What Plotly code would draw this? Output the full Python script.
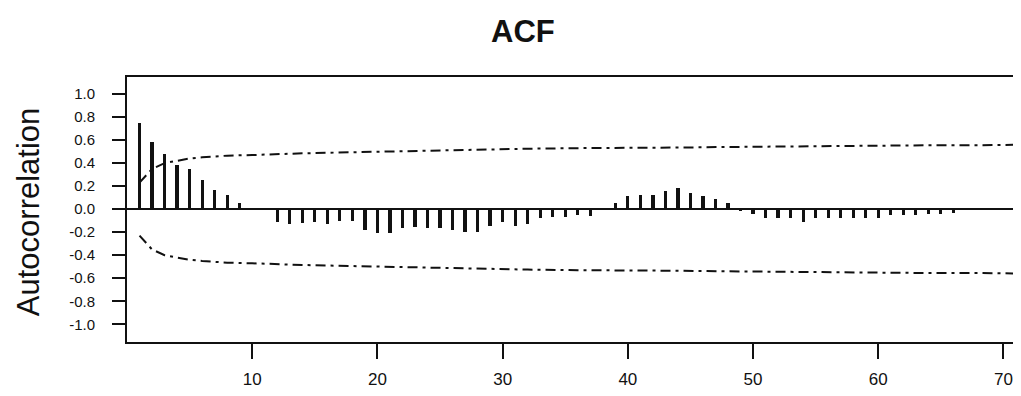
import plotly.graph_objects as go

# ---- data ----
lags = list(range(1, 67))
acf = [0.75, 0.58, 0.48, 0.38, 0.35, 0.25, 0.17, 0.12, 0.05, 0.01,
       0.00, -0.11, -0.13, -0.12, -0.11, -0.13, -0.10, -0.10, -0.18, -0.21,
       -0.21, -0.165, -0.155, -0.16, -0.16, -0.18, -0.20, -0.20, -0.15, -0.11,
       -0.15, -0.13, -0.08, -0.07, -0.07, -0.05, -0.06, 0.00, 0.05, 0.11,
       0.12, 0.12, 0.16, 0.18, 0.14, 0.11, 0.09, 0.05, -0.02, -0.04,
       -0.08, -0.08, -0.08, -0.11, -0.08, -0.08, -0.08, -0.08, -0.08, -0.08,
       -0.05, -0.05, -0.05, -0.04, -0.04, -0.03]

bound_lags = [1, 2, 3, 4, 5, 6, 7, 8, 10, 12, 14, 16, 20, 24, 28, 32, 36,
              40, 44, 48, 52, 56, 60, 64, 68, 72]
bound_vals = [0.23, 0.35, 0.40, 0.42, 0.44, 0.45, 0.46, 0.465, 0.47, 0.48,
              0.485, 0.49, 0.50, 0.51, 0.52, 0.525, 0.53, 0.53, 0.535, 0.54,
              0.545, 0.55, 0.55, 0.555, 0.555, 0.56]

x_ticks = [10, 20, 30, 40, 50, 60, 70]
y_ticks = [1.0, 0.8, 0.6, 0.4, 0.2, 0.0, -0.2, -0.4, -0.6, -0.8, -1.0]
y_tick_text = ["1.0", "0.8", "0.6", "0.4", "0.2", "0.0",
               "-0.2", "-0.4", "-0.6", "-0.8", "-1.0"]

title_text = "ACF"
y_title = "Autocorrelation"

FONT = "Arial, 'Liberation Sans', sans-serif"
DASH = "10px,5px,3px,5px"

fig = go.Figure()
fig.add_trace(go.Bar(x=lags, y=acf, width=0.26,
                     marker=dict(color="#111111", line=dict(width=0)),
                     showlegend=False, hoverinfo="x+y"))
fig.add_trace(go.Scatter(x=bound_lags, y=bound_vals, mode="lines",
                         line=dict(color="#111111", width=2, dash=DASH),
                         showlegend=False))
fig.add_trace(go.Scatter(x=bound_lags, y=[-v for v in bound_vals], mode="lines",
                         line=dict(color="#111111", width=2, dash=DASH),
                         showlegend=False))

# the page body keeps an 8px margin, so the figure is drawn 8px in from the corner
fig.update_layout(
    width=1013, height=388,
    margin=dict(l=119, r=0, t=69, b=54),
    paper_bgcolor="white", plot_bgcolor="white",
    font=dict(family=FONT, color="#111111"),
    bargap=0,
    annotations=[
        dict(text="<b>" + title_text + "</b>", xref="paper", yref="paper",
             x=0.443, y=1.17, xanchor="center", yanchor="middle",
             showarrow=False, font=dict(size=31, family=FONT, color="#111111")),
        dict(text=y_title, xref="paper", yref="paper",
             x=-0.1107, y=0.49, xanchor="center", yanchor="middle",
             textangle=-90, showarrow=False,
             font=dict(size=31, family=FONT, color="#111111")),
    ],
)
fig.update_xaxes(range=[0, 71.4], tickvals=x_ticks, ticks="outside",
                 ticklen=15, tickwidth=1.5, tickcolor="#111111",
                 showline=True, linewidth=2, linecolor="#111111", mirror=True,
                 showgrid=False, zeroline=False,
                 tickfont=dict(size=17, family=FONT, color="#111111"),
                 ticklabelstandoff=6)
fig.update_yaxes(range=[-1.154, 1.148], tickvals=y_ticks, ticktext=y_tick_text,
                 ticks="outside", ticklen=13, tickwidth=1.5, tickcolor="#111111",
                 showline=True, linewidth=2, linecolor="#111111", mirror=False,
                 showgrid=False, zeroline=True, zerolinecolor="#111111",
                 zerolinewidth=1.5,
                 tickfont=dict(size=15, family=FONT, color="#111111"),
                 ticklabelstandoff=14)

fig.write_html("out.html")
